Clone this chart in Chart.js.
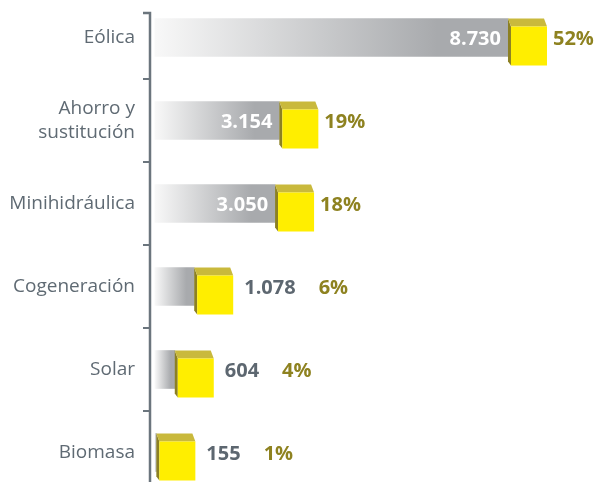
<!DOCTYPE html>
<html>
<head>
<meta charset="utf-8">
<script src="https://cdn.jsdelivr.net/npm/chart.js@4"></script>
<style>
html, body { margin: 0; padding: 0; background: #fff; overflow: hidden; width: 595px; height: 482px; }
#wrap { position: absolute; left: 0; top: -4px; width: 595px; height: 498px; }
</style>
</head>
<body>
<div id="wrap"><canvas id="chart" width="595" height="498"></canvas></div>
<script>
// data
const categories = ['Eólica', ['Ahorro y', 'sustitución'], 'Minihidráulica', 'Cogeneración', 'Solar', 'Biomasa'];
const values = [8730, 3154, 3050, 1078, 604, 155];
const valueLabels = ['8.730', '3.154', '3.050', '1.078', '604', '155'];
const percentLabels = ['52%', '19%', '18%', '6%', '4%', '1%'];

const barBase = 120;
const axisColor = '#6b757d';
const textGray = '#5d6770';
const olive = '#8e8220';

// grey gradient along each bar, light at the start
function barGradient(context) {
    const chart = context.chart;
    const xs = chart.scales.x;
    if (!chart.chartArea || !xs || context.raw == null) return '#a8aaad';
    const x0 = xs.getPixelForValue(barBase);
    const x1 = xs.getPixelForValue(context.raw);
    const g = chart.ctx.createLinearGradient(x0, 0, x1, 0);
    g.addColorStop(0, '#f8f8f8');
    g.addColorStop(0.8, '#a8aaad');
    g.addColorStop(1, '#a8aaad');
    return g;
}

// y axis line with the little bracket at the top
const axisPlugin = {
    id: 'axisLine',
    beforeDatasetsDraw(chart) {
        const ctx = chart.ctx;
        const x = chart.chartArea.left;
        ctx.save();
        ctx.strokeStyle = axisColor;
        ctx.lineWidth = 2.5;
        ctx.beginPath();
        ctx.moveTo(x - 7, 17);
        ctx.lineTo(x, 17);
        ctx.lineTo(x, chart.height);
        ctx.stroke();
        ctx.restore();
    }
};

// yellow cube at the end of every bar + the labels
const cubePlugin = {
    id: 'cubes',
    afterDatasetsDraw(chart) {
        const ctx = chart.ctx;
        const meta = chart.getDatasetMeta(0);
        const start = chart.scales.x.getPixelForValue(barBase);
        ctx.save();
        meta.data.forEach((bar, i) => {
            const ex = bar.x;
            const top = bar.y - bar.height / 2;

            ctx.fillStyle = '#8c8022';
            ctx.beginPath();
            ctx.moveTo(ex, top);
            ctx.lineTo(ex + 3, top + 8);
            ctx.lineTo(ex + 3, top + 47);
            ctx.lineTo(ex, top + 43);
            ctx.closePath();
            ctx.fill();

            ctx.fillStyle = '#c9b93c';
            ctx.beginPath();
            ctx.moveTo(ex, top);
            ctx.lineTo(ex + 36, top);
            ctx.lineTo(ex + 39, top + 8);
            ctx.lineTo(ex + 3, top + 8);
            ctx.closePath();
            ctx.fill();

            ctx.fillStyle = '#ffee00';
            ctx.fillRect(ex + 3, top + 8, 36, 39);

            ctx.font = 'bold 20px "Open Sans"';
            ctx.textBaseline = 'middle';
            const ty = bar.y + 2;
            const w = ctx.measureText(valueLabels[i]).width;
            let px;
            if (ex - start > w + 16) {
                ctx.fillStyle = '#ffffff';
                ctx.textAlign = 'right';
                ctx.fillText(valueLabels[i], ex - 7, ty);
                px = ex + 45;
            } else {
                ctx.fillStyle = textGray;
                ctx.textAlign = 'left';
                ctx.fillText(valueLabels[i], ex + 50, ty);
                px = ex + 50 + w + 23;
            }
            ctx.fillStyle = olive;
            ctx.textAlign = 'left';
            ctx.fillText(percentLabels[i], px, ty);
        });
        ctx.restore();
    }
};

const ctx = document.getElementById('chart');

new Chart(ctx, {
    type: 'bar',
    data: {
        labels: categories,
        datasets: [{
            data: values,
            base: barBase,
            barThickness: 38,
            backgroundColor: barGradient,
            borderWidth: 0
        }]
    },
    options: {
        indexAxis: 'y',
        responsive: false,
        animation: false,
        devicePixelRatio: 1,
        layout: { padding: { top: 0, bottom: 0, left: 0, right: 5 } },
        plugins: {
            legend: { display: false },
            tooltip: { enabled: false }
        },
        scales: {
            x: {
                display: false,
                min: 0,
                max: 10730
            },
            y: {
                afterFit(scale) {
                    scale.width = 150;
                    scale.paddingTop = 0;
                    scale.paddingBottom = 0;
                },
                border: { display: false },
                grid: {
                    display: true,
                    offset: true,
                    drawOnChartArea: false,
                    tickLength: 7,
                    color: axisColor,
                    lineWidth: 2
                },
                ticks: {
                    padding: 8,
                    color: '#5f6a73',
                    font: { family: '"Open Sans"', size: 19, lineHeight: 1.3 }
                }
            }
        }
    },
    plugins: [axisPlugin, cubePlugin]
});
</script>
</body>
</html>
